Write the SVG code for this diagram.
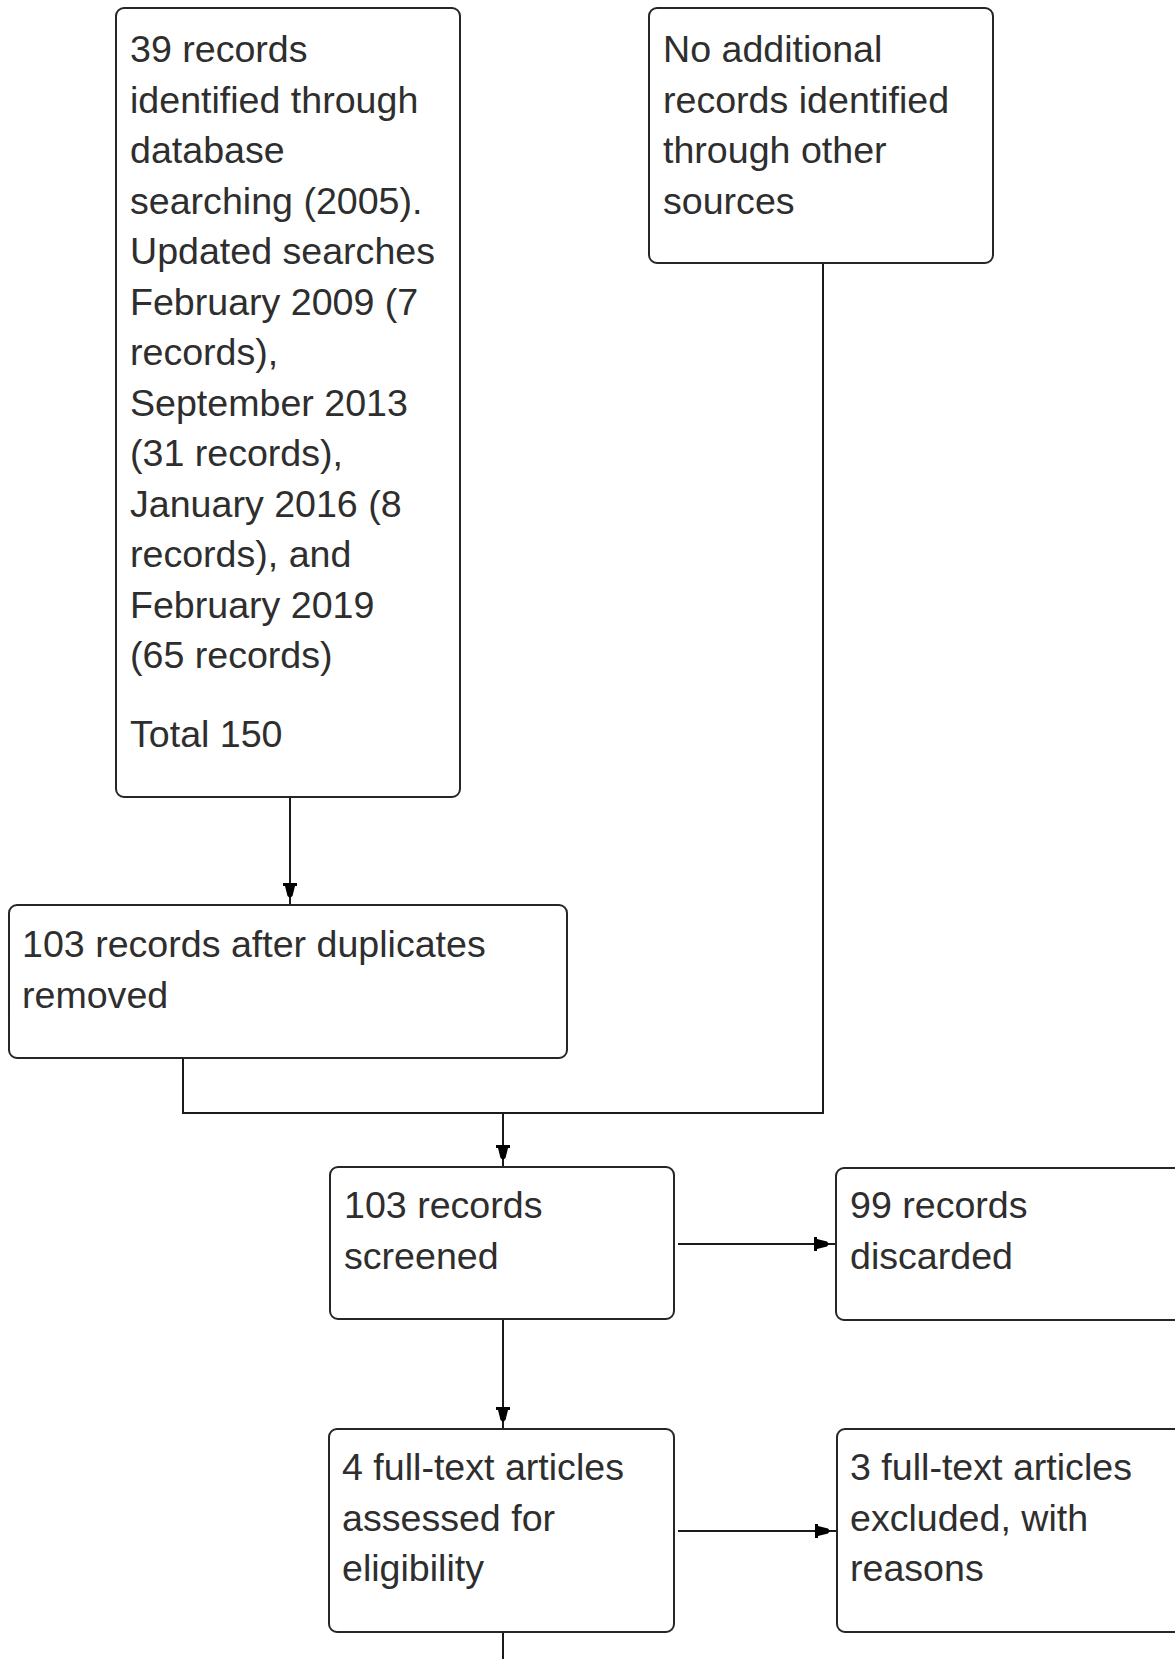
<svg xmlns="http://www.w3.org/2000/svg" width="1175" height="1659" viewBox="0 0 1175 1659">
<style>
.box{fill:#fff;stroke:#262626;stroke-width:2}
.t{font-family:"Liberation Sans",Arial,sans-serif;font-size:37.6px;fill:#2e2e2e}
.c{fill:none;stroke:#1a1a1a;stroke-width:2}
</style>
<defs>
<marker id="ah" markerUnits="userSpaceOnUse" markerWidth="20" markerHeight="18" viewBox="-17 -9 20 18" refX="7" refY="0" orient="auto">
<path d="M-15,-7 L-12,-7 L-12,-5 L-2,-2.5 L0,0 L-2,2.5 L-12,5 L-12,7 L-15,7 Z" fill="#000"/>
</marker>
</defs>
<rect width="1175" height="1659" fill="#fff"/>
<g id="connectors">
<path class="c" d="M290,797 V905" marker-end="url(#ah)"/>
<path class="c" d="M183,1058 V1113 H823 V263"/>
<path class="c" d="M503,1113 V1167" marker-end="url(#ah)"/>
<path class="c" d="M678,1244 H836" marker-end="url(#ah)"/>
<path class="c" d="M503,1319 V1429" marker-end="url(#ah)"/>
<path class="c" d="M678,1531 H837" marker-end="url(#ah)"/>
<path class="c" d="M503,1632 V1659"/>
</g>
<g id="n1">
<rect class="box" x="116" y="8" width="344" height="789" rx="8"/>
<text class="t" x="130"><tspan x="130" y="62">39 records</tspan><tspan x="130" y="112.5">identified through</tspan><tspan x="130" y="163">database</tspan><tspan x="130" y="213.5">searching (2005).</tspan><tspan x="130" y="264">Updated searches</tspan><tspan x="130" y="314.5">February 2009 (7</tspan><tspan x="130" y="365">records),</tspan><tspan x="130" y="415.5">September 2013</tspan><tspan x="130" y="466">(31 records),</tspan><tspan x="130" y="516.5">January 2016 (8</tspan><tspan x="130" y="567">records), and</tspan><tspan x="130" y="617.5">February 2019</tspan><tspan x="130" y="668">(65 records)</tspan><tspan x="130" y="747">Total 150</tspan></text>
</g>
<g id="n2">
<rect class="box" x="649" y="8" width="344" height="255" rx="8"/>
<text class="t"><tspan x="663" y="62">No additional</tspan><tspan x="663" y="112.5">records identified</tspan><tspan x="663" y="163">through other</tspan><tspan x="663" y="213.5">sources</tspan></text>
</g>
<g id="n3">
<rect class="box" x="9" y="905" width="558" height="153" rx="8"/>
<text class="t"><tspan x="22" y="957">103 records after duplicates</tspan><tspan x="22" y="1008">removed</tspan></text>
</g>
<g id="n4">
<rect class="box" x="330" y="1167" width="344" height="152" rx="8"/>
<text class="t"><tspan x="344" y="1218">103 records</tspan><tspan x="344" y="1269">screened</tspan></text>
</g>
<g id="n5">
<rect class="box" x="836" y="1168" width="350" height="152" rx="8"/>
<text class="t"><tspan x="850" y="1218">99 records</tspan><tspan x="850" y="1268.5">discarded</tspan></text>
</g>
<g id="n6">
<rect class="box" x="329" y="1429" width="345" height="203" rx="8"/>
<text class="t"><tspan x="342" y="1480">4 full-text articles</tspan><tspan x="342" y="1530.5">assessed for</tspan><tspan x="342" y="1581">eligibility</tspan></text>
</g>
<g id="n7">
<rect class="box" x="837" y="1429" width="350" height="203" rx="8"/>
<text class="t"><tspan x="850" y="1480">3 full-text articles</tspan><tspan x="850" y="1530.5">excluded, with</tspan><tspan x="850" y="1581">reasons</tspan></text>
</g>
</svg>
